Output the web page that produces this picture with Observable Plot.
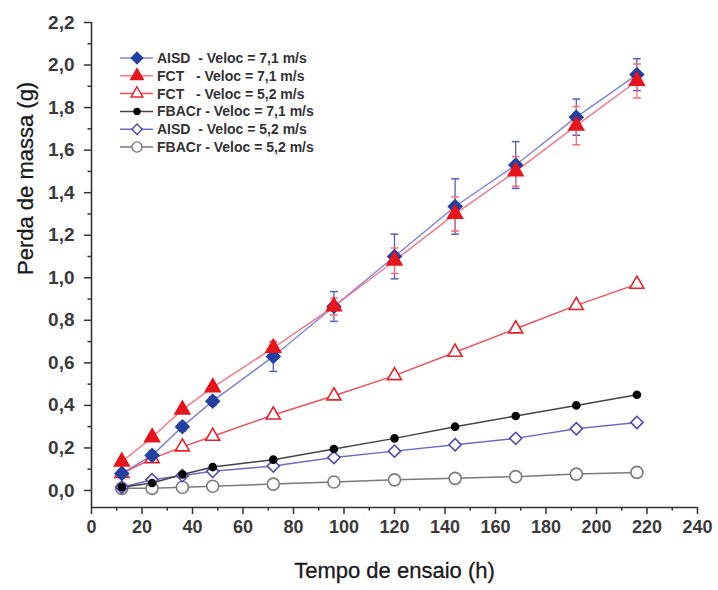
<!DOCTYPE html>
<html><head><meta charset="utf-8">
<script src="https://cdn.jsdelivr.net/npm/d3@7"></script>
<script src="https://cdn.jsdelivr.net/npm/@observablehq/plot@0.6"></script>
<style>
html,body{margin:0;padding:0;background:#fff;}
#chart{width:718px;height:590px;}
</style></head><body><div id="chart"></div>
<script>
// ---- data ----
const hours = [12, 24, 36, 48, 72, 96, 120, 144, 168, 192, 216];
const aisd71 = [0.08, 0.165, 0.30, 0.42, 0.63, 0.865, 1.10, 1.335, 1.53, 1.755, 1.955];
const aisd71Err = [0.015, 0.02, 0.02, 0.02, 0.07, 0.07, 0.105, 0.13, 0.11, 0.085, 0.075];
const fct71 = [0.135, 0.25, 0.38, 0.485, 0.67, 0.865, 1.08, 1.30, 1.50, 1.715, 1.925];
const fct71Err = [0.01, 0.01, 0.01, 0.01, 0.03, 0.04, 0.06, 0.08, 0.07, 0.09, 0.08];
const fct52 = [0.08, 0.15, 0.205, 0.255, 0.355, 0.445, 0.54, 0.65, 0.76, 0.87, 0.97];
const fbacr71 = [0.015, 0.035, 0.075, 0.11, 0.145, 0.195, 0.245, 0.30, 0.35, 0.40, 0.45];
const aisd52 = [0.015, 0.05, 0.07, 0.09, 0.115, 0.155, 0.185, 0.215, 0.245, 0.29, 0.32];
const fbacr52 = [0.01, 0.01, 0.015, 0.02, 0.03, 0.04, 0.05, 0.057, 0.065, 0.077, 0.085];

const legendLabels = [
  "AISD  - Veloc = 7,1 m/s",
  "FCT   - Veloc = 7,1 m/s",
  "FCT   - Veloc = 5,2 m/s",
  "FBACr - Veloc = 7,1 m/s",
  "AISD  - Veloc = 5,2 m/s",
  "FBACr - Veloc = 5,2 m/s"
];
const xMajor = [0, 20, 40, 60, 80, 100, 120, 140, 160, 180, 200, 220, 240];
const xMinor = [10, 30, 50, 70, 90, 110, 130, 150, 170, 190, 210, 230];
const yMajor = [0, 0.2, 0.4, 0.6, 0.8, 1.0, 1.2, 1.4, 1.6, 1.8, 2.0, 2.2];
const yMinor = [0.1, 0.3, 0.5, 0.7, 0.9, 1.1, 1.3, 1.5, 1.7, 1.9, 2.1];
const xDomain = [0, 240];
const yDomain = [-0.08, 2.2];
const xTitle = "Tempo de ensaio (h)";
const yTitle = "Perda de massa (g)";

// ---- styles ----
const series = [
  {key: "fbacr52", values: fbacr52, line: "#7a7a7a", symbol: "circle", r: 6, fill: "white", stroke: "#7a7a7a", legend: 5},
  {key: "aisd52", values: aisd52, line: "#6b6cc4", symbol: "diamond2", r: 5.5, fill: "white", stroke: "#4a4cb0", legend: 4},
  {key: "fbacr71", values: fbacr71, line: "#444", symbol: "circle", r: 3.5, fill: "#000", stroke: "#000", legend: 3},
  {key: "fct52", values: fct52, line: "#f0505e", symbol: "triangle", r: 5.2, fill: "white", stroke: "#e8202c", legend: 2},
  {key: "aisd71", values: aisd71, err: aisd71Err, line: "#8286d4", symbol: "diamond2", r: 6, fill: "#2440a0", stroke: "#2440a0", legend: 0, errColor: "#5a5eb8"},
  {key: "fct71", values: fct71, err: fct71Err, line: "#f27a86", symbol: "triangle", r: 5.5, fill: "#e8141c", stroke: "#e8141c", legend: 1, errColor: "#f0707c"}
];

const capSymbol = {draw(ctx, size) { const w = Math.sqrt(size); ctx.moveTo(-w, 0); ctx.lineTo(w, 0); }};

const marks = [];
for (const s of series) {
  if (!s.err) continue;
  const rows = hours.map((h, i) => ({h, lo: s.values[i] - s.err[i], hi: s.values[i] + s.err[i]}));
  marks.push(Plot.ruleX(rows, {x: "h", y1: "lo", y2: "hi", stroke: s.errColor, strokeWidth: 1.3}));
  marks.push(Plot.dot(rows, {x: "h", y: "lo", symbol: capSymbol, r: 2.2, stroke: s.errColor, strokeWidth: 1.5}));
  marks.push(Plot.dot(rows, {x: "h", y: "hi", symbol: capSymbol, r: 2.2, stroke: s.errColor, strokeWidth: 1.5}));
}
for (const s of series) {
  const rows = hours.map((h, i) => ({h, v: s.values[i]}));
  marks.push(Plot.line(rows, {x: "h", y: "v", stroke: s.line, strokeWidth: 1.5}));
}
for (const s of series) {
  const rows = hours.map((h, i) => ({h, v: s.values[i]}));
  marks.push(Plot.dot(rows, {x: "h", y: "v", symbol: s.symbol, r: s.r, fill: s.fill, stroke: s.stroke, strokeWidth: 1.6}));
}

const fmtY = d => d.toFixed(1).replace(".", ",");

const plot = Plot.plot({
  width: 718,
  height: 590,
  marginLeft: 91,
  marginRight: 21,
  marginTop: 22,
  marginBottom: 83,
  style: {fontFamily: "'Liberation Sans', Arial, sans-serif", background: "white", color: "#333", overflow: "visible"},
  x: {domain: xDomain},
  y: {domain: yDomain},
  marks: [
    Plot.axisY(yMajor, {tickSize: 7, tickPadding: 10, tickFormat: fmtY, fontSize: 19, fontWeight: "bold", fill: "#3a3a3a", stroke: "#333", strokeWidth: 1.5, label: null}),
    Plot.axisY(yMinor, {tickSize: 3.5, tickFormat: () => "", stroke: "#333", strokeWidth: 1.5, label: null}),
    Plot.axisX(xMajor, {tickSize: 7, tickPadding: 6, tickFormat: d => String(d), fontSize: 18, fontWeight: "bold", fill: "#3a3a3a", stroke: "#333", strokeWidth: 1.5, label: null}),
    Plot.axisX(xMinor, {tickSize: 3.5, tickFormat: () => "", stroke: "#333", strokeWidth: 1.5, label: null}),
    Plot.ruleX([xDomain[0]], {stroke: "#333", strokeWidth: 1.6}),
    Plot.ruleY([yDomain[0]], {stroke: "#333", strokeWidth: 1.6}),
    ...marks,
    Plot.text([xTitle], {frameAnchor: "bottom", dy: 70, fontSize: 22, fill: "#1a1a1a", stroke: "#1a1a1a", strokeWidth: 0.3}),
    Plot.text([yTitle], {frameAnchor: "left", dx: -66, dy: 10, rotate: -90, fontSize: 22, fill: "#1a1a1a", stroke: "#1a1a1a", strokeWidth: 0.3})
  ]
});

// legend (drawn inside the plot's svg)
const svg = d3.select(plot);
const lg = svg.append("g").attr("transform", "translate(120,58)");
const ordered = series.slice().sort((a, b) => a.legend - b.legend);
const symMap = {circle: d3.symbolCircle, diamond2: d3.symbolDiamond2, triangle: d3.symbolTriangle};
ordered.forEach((s, i) => {
  const g = lg.append("g").attr("transform", `translate(0,${i * 17.8})`);
  g.append("line").attr("x1", 0).attr("x2", 33).attr("y1", 0).attr("y2", 0)
    .attr("stroke", s.line).attr("stroke-width", 1.5);
  g.append("path").attr("transform", "translate(17,0)")
    .attr("d", d3.symbol(symMap[s.symbol], Math.PI * (s.r * 0.85) ** 2)())
    .attr("fill", s.fill).attr("stroke", s.stroke).attr("stroke-width", 1.4);
  g.append("text").attr("x", 37).attr("y", 0).attr("dy", "0.35em")
    .attr("text-anchor", "start")
    .attr("font-size", 14).attr("fill", "#333").attr("font-weight", "bold")
    .attr("xml:space", "preserve")
    .style("white-space", "pre")
    .text(legendLabels[s.legend]);
});

document.getElementById("chart").appendChild(plot);
</script>
</body></html>
